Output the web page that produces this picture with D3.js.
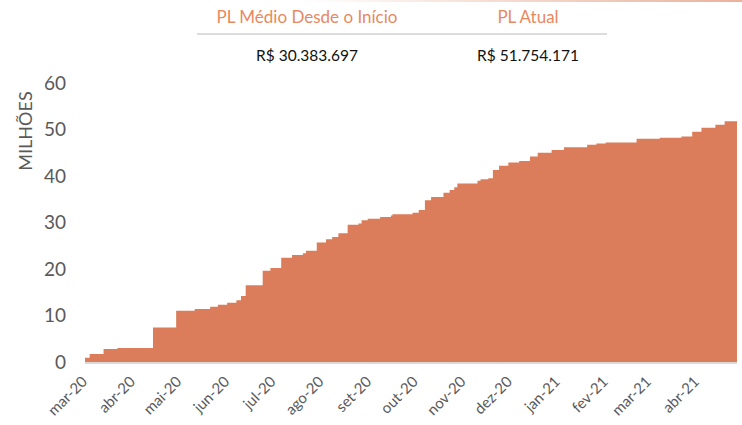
<!DOCTYPE html>
<meta charset="utf-8">
<script src="https://cdn.jsdelivr.net/npm/d3@7"></script>
<style>
  body { margin: 0; background: #fff; }
  text { font-family: Lato, "Open Sans", sans-serif; }
</style>
<svg id="graph" width="742" height="425"></svg>
<script>

// PL do fundo (milhões de R$), pontos de mudança
var dates = ["2020-03-01","2020-03-04","2020-03-13","2020-03-22","2020-04-14","2020-04-29",
  "2020-05-11","2020-05-21","2020-05-26","2020-06-01","2020-06-07","2020-06-10","2020-06-13",
  "2020-06-24","2020-06-29","2020-07-06","2020-07-13","2020-07-20","2020-07-22","2020-07-29",
  "2020-08-04","2020-08-08","2020-08-12","2020-08-18","2020-08-25","2020-08-27","2020-08-31",
  "2020-09-08","2020-09-15","2020-09-16","2020-09-29","2020-10-03","2020-10-07","2020-10-11",
  "2020-10-19","2020-10-23","2020-10-26","2020-10-28","2020-11-10","2020-11-12","2020-11-17",
  "2020-11-20","2020-11-24","2020-11-30","2020-12-07","2020-12-14","2020-12-19","2020-12-28",
  "2021-01-05","2021-01-20","2021-01-26","2021-02-01","2021-02-21","2021-03-08","2021-03-22",
  "2021-03-29","2021-04-04","2021-04-13","2021-04-19","2021-04-27"];
var values = [0.9,1.7,2.8,3.0,7.4,11.0,
  11.4,11.9,12.3,12.75,13.3,14.2,16.5,
  19.6,20.2,22.4,23.0,23.4,23.9,25.7,
  26.4,26.9,27.7,29.5,29.8,30.5,30.8,
  31.2,31.5,31.8,32.1,32.7,34.8,35.5,
  36.4,37.0,37.6,38.4,39.0,39.3,39.5,
  41.3,42.2,42.9,43.2,44.2,45.0,45.6,
  46.2,46.7,47.0,47.2,48.0,48.2,48.5,
  49.5,50.4,51.0,51.75,51.75];

var yTicks = [0, 10, 20, 30, 40, 50, 60];
var monthNames = ["jan","fev","mar","abr","mai","jun","jul","ago","set","out","nov","dez"];

var headTitles = ["PL Médio Desde o Início", "PL Atual"];
var headValues = ["R$ 30.383.697", "R$ 51.754.171"];

var orange = "#DB7D5A";
var parse = d3.timeParse("%Y-%m-%d");
var data = dates.map(function(d, i) { return {date: parse(d), v: values[i]}; });

var svg = d3.select("#graph");

// faixa fina no topo
var grad = svg.append("defs").append("linearGradient").attr("id", "topfade");
grad.append("stop").attr("offset", "0%").attr("stop-color", orange).attr("stop-opacity", 0);
grad.append("stop").attr("offset", "100%").attr("stop-color", orange).attr("stop-opacity", 0.6);
svg.append("rect").attr("x", 300).attr("y", 0).attr("width", 442).attr("height", 2)
    .attr("fill", "url(#topfade)");

// cabeçalho
var hx = d3.scalePoint().domain(headTitles).range([307, 528]);
svg.append("line").attr("x1", 197).attr("x2", 607).attr("y1", 34).attr("y2", 34)
    .attr("stroke", "#d0d0d0").attr("stroke-width", 1.5);
svg.selectAll(".htitle").data(headTitles).enter().append("text")
    .attr("x", function(d) { return hx(d); }).attr("y", 23)
    .attr("text-anchor", "middle").attr("fill", "#E8885F").style("font-size", "17px")
    .text(function(d) { return d; });
svg.selectAll(".hval").data(headValues).enter().append("text")
    .attr("x", function(d, i) { return hx(headTitles[i]); }).attr("y", 61)
    .attr("text-anchor", "middle").attr("fill", "#111").style("font-size", "15.5px")
    .text(function(d) { return d; });

var x = d3.scaleTime().domain([parse("2020-03-01"), parse("2021-04-27")]).range([85, 737]);
var y = d3.scaleLinear().domain([0, 60]).range([362, 83]);

var area = d3.area()
    .curve(d3.curveStepAfter)
    .x(function(d) { return x(d.date); })
    .y0(y(0))
    .y1(function(d) { return y(d.v); });

svg.append("path").datum(data).attr("d", area).attr("fill", orange);

// linha de base
svg.append("line").attr("x1", 85).attr("x2", 737).attr("y1", y(0) + 1).attr("y2", y(0) + 1)
    .attr("stroke", "#d9d9d9").attr("stroke-width", 2);

// eixo y
var yAxis = svg.append("g").attr("transform", "translate(66,0)")
    .call(d3.axisLeft(y).tickValues(yTicks).tickSize(0).tickPadding(0));
yAxis.select(".domain").remove();
yAxis.selectAll("text").attr("fill", "#595959").style("font-size", "19px")
    .style("font-family", "Lato, sans-serif");

svg.append("text").attr("transform", "translate(32,131) rotate(-90)")
    .attr("text-anchor", "middle").attr("fill", "#595959").style("font-size", "18px")
    .text("MILHÕES");

// eixo x
var xAxis = svg.append("g").attr("transform", "translate(0,366)")
    .call(d3.axisBottom(x).ticks(d3.timeMonth.every(1)).tickSize(0)
      .tickFormat(function(d) { return monthNames[d.getMonth()] + "-" + d3.timeFormat("%y")(d); }));
xAxis.select(".domain").remove();
xAxis.selectAll("text").attr("fill", "#595959").style("font-size", "15px")
    .style("font-family", "Lato, sans-serif")
    .attr("text-anchor", "end").attr("y", 0).attr("dy", "0.35em").attr("dx", "0")
    .attr("transform", "translate(-1,13) rotate(-45)");

</script>
